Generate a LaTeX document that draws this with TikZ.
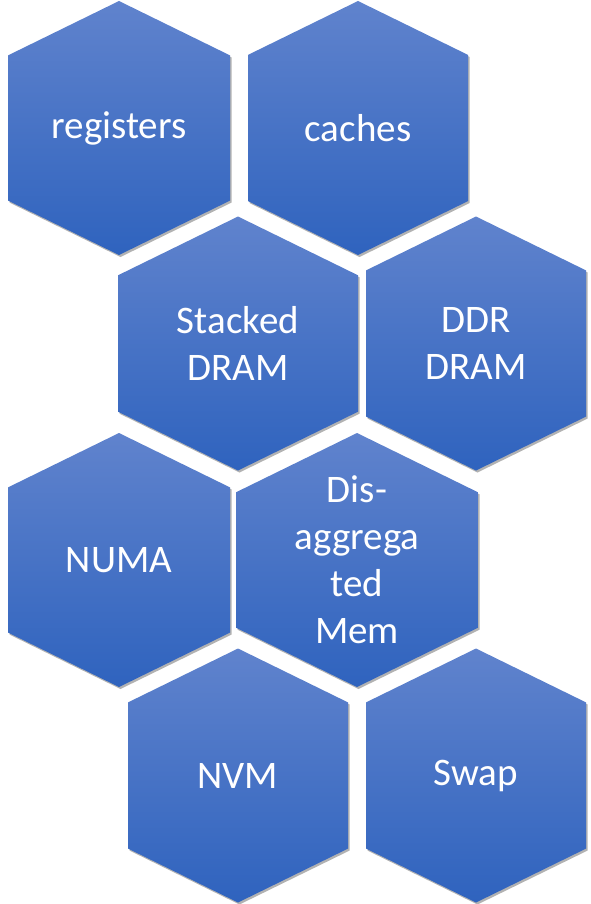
\documentclass[tikz,border=0pt]{standalone}
\usepackage{fontspec}
\setmainfont{Carlito}
\usepackage{tikz}
\usetikzlibrary{shadows}

\definecolor{celltop}{RGB}{96,131,205}
\definecolor{cellbottom}{RGB}{47,99,190}

\begin{document}
\begin{tikzpicture}[x=1pt, y=-1pt,
  cell/.style={top color=celltop, bottom color=cellbottom,
    drop shadow={shadow xshift=1.5pt, shadow yshift=-2pt, opacity=0.3, fill=black}},
  celltext/.style={text=white, align=center, inner sep=0pt,
    font=\fontsize{39}{47}\selectfont}]

  \useasboundingbox (0,0) rectangle (590,904);

  % name / centre x / centre y / half width / text
  \foreach \name/\cx/\cy/\hw/\txt in {
      reg/119/128/111/{registers},
      cache/358/128/110/{caches},
      stacked/238/343.5/120/{Stacked\\DRAM},
      ddr/476/343.5/110/{DDR\\DRAM},
      numa/119/560/111/{NUMA},
      disagg/357/560/121/{Dis-\\aggrega\\ted\\Mem},
      nvm/238/775.5/110/{NVM},
      swap/476/775.5/110/{Swap}} {
    \pgfmathsetmacro\sh{127-0.49*\hw}
    \path[cell] (\cx,\cy-127) -- (\cx+\hw,\cy-\sh) -- (\cx+\hw,\cy+\sh)
      -- (\cx,\cy+127) -- (\cx-\hw,\cy+\sh) -- (\cx-\hw,\cy-\sh) -- cycle;
    \node[celltext] (\name) at (\cx,\cy) {\txt};
  }
\end{tikzpicture}
\end{document}
